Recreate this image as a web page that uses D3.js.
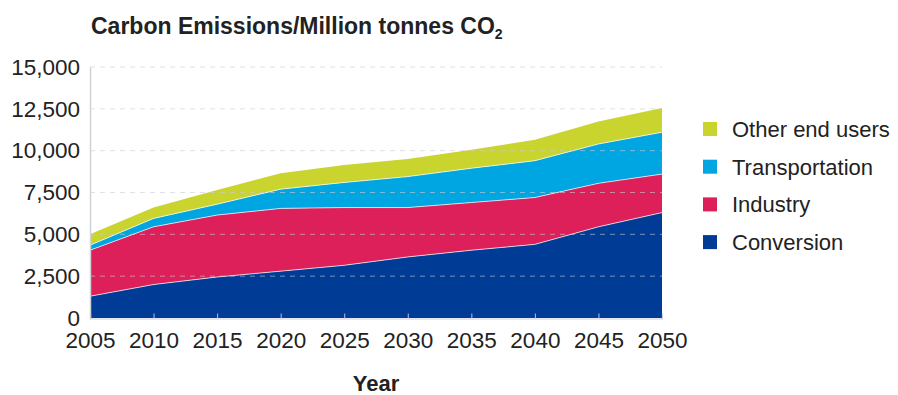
<!DOCTYPE html>
<html>
<head>
<meta charset="utf-8">
<script src="https://cdn.jsdelivr.net/npm/d3@7"></script>
<style>
  body { margin: 0; background: #fff; }
  text { font-family: "Liberation Sans", Arial, Helvetica, sans-serif; fill: #222; }
</style>
</head>
<body>
<svg width="898" height="395"></svg>
<script>
const years = [2005, 2010, 2015, 2020, 2025, 2030, 2035, 2040, 2045, 2050];
const conversion = [1300, 2000, 2450, 2800, 3150, 3650, 4050, 4400, 5450, 6300];
const industry = [2750, 3450, 3700, 3750, 3450, 2950, 2850, 2800, 2600, 2300];
const transportation = [300, 500, 650, 1150, 1500, 1850, 2050, 2200, 2350, 2500];
const otherEndUsers = [650, 650, 850, 950, 1050, 1050, 1100, 1250, 1350, 1450];

const seriesNames = ["Conversion", "Industry", "Transportation", "Other end users"];
const seriesColors = ["#003b95", "#dd1f5a", "#00a6e2", "#c9d42e"];
const yTicks = [0, 2500, 5000, 7500, 10000, 12500, 15000];

const svg = d3.select("svg");

const x = d3.scaleLinear()
  .domain([2005, 2050])
  .range([90, 662]);

const y = d3.scaleLinear()
  .domain([0, 15000])
  .range([318, 67]);

const rows = years.map((yr, i) => ({
  year: yr,
  "Conversion": conversion[i],
  "Industry": industry[i],
  "Transportation": transportation[i],
  "Other end users": otherEndUsers[i]
}));

const stack = d3.stack().keys(seriesNames);
const layers = stack(rows);

const area = d3.area()
  .x(d => x(d.data.year))
  .y0(d => y(d[0]))
  .y1(d => y(d[1]));

const topLine = d3.line()
  .x(d => x(d.data.year))
  .y(d => y(d[1]));

// areas
svg.append("g")
  .selectAll("path")
  .data(layers)
  .enter().append("path")
  .attr("d", area)
  .attr("fill", (d, i) => seriesColors[i]);

// thin light separators between layers
svg.append("g")
  .selectAll("path")
  .data(layers.slice(0, 3))
  .enter().append("path")
  .attr("d", topLine)
  .attr("fill", "none")
  .attr("stroke", "#fff")
  .attr("stroke-opacity", 0.7)
  .attr("stroke-width", 1);

// dashed gridlines over the areas
svg.append("g")
  .selectAll("line")
  .data(yTicks.slice(1))
  .enter().append("line")
  .attr("x1", x(2005))
  .attr("x2", x(2050))
  .attr("y1", d => y(d))
  .attr("y2", d => y(d))
  .attr("stroke", "#c9cdd2")
  .attr("stroke-opacity", 0.6)
  .attr("stroke-dasharray", "5,5");

// y axis
const yAxis = svg.append("g")
  .attr("transform", "translate(" + x(2005) + ",0)")
  .call(d3.axisLeft(y)
    .tickValues(yTicks)
    .tickSize(0)
    .tickPadding(10)
    .tickFormat(d3.format(",")));
yAxis.select(".domain").attr("stroke", "#cfd3d6").attr("stroke-width", 1.5);
yAxis.selectAll("text")
  .attr("font-size", 22.5)
  .attr("font-family", null)
  .attr("fill", "#222");

// x axis
const xAxis = svg.append("g")
  .attr("transform", "translate(0," + (y(0) + 0.5) + ")")
  .call(d3.axisBottom(x)
    .tickValues(years)
    .tickSize(-5)
    .tickPadding(14)
    .tickFormat(d3.format("d")));
xAxis.select(".domain").attr("stroke", "#c9cbe0").attr("stroke-width", 1.2);
xAxis.selectAll(".tick line").attr("stroke", "#b8bde6");
xAxis.selectAll(".tick")
  .filter(d => d === 2005 || d === 2050)
  .select("line").remove();
xAxis.selectAll("text")
  .attr("font-size", 22.5)
  .attr("font-family", null)
  .attr("fill", "#222");

// title
const title = svg.append("text")
  .attr("x", 91)
  .attr("y", 34)
  .attr("font-size", 23)
  .attr("font-weight", "bold")
  .attr("fill", "#111")
  .text("Carbon Emissions/Million tonnes CO");
title.append("tspan")
  .attr("font-size", 14)
  .attr("dy", 5)
  .text("2");

// x title
svg.append("text")
  .attr("x", (x(2005) + x(2050)) / 2)
  .attr("y", 391)
  .attr("text-anchor", "middle")
  .attr("font-size", 22)
  .attr("font-weight", "bold")
  .attr("fill", "#111")
  .text("Year");

// legend, top to bottom
const legendItems = seriesNames.map((n, i) => ({ name: n, color: seriesColors[i] })).reverse();
const legend = svg.append("g")
  .selectAll("g")
  .data(legendItems)
  .enter().append("g")
  .attr("transform", (d, i) => "translate(703," + (129 + i * 37.7) + ")");
legend.append("rect")
  .attr("x", 0)
  .attr("y", -7)
  .attr("width", 14)
  .attr("height", 14)
  .attr("fill", d => d.color);
legend.append("text")
  .attr("x", 29)
  .attr("y", 0)
  .attr("dy", "0.36em")
  .attr("font-size", 22)
  .attr("fill", "#222")
  .text(d => d.name);
</script>
</body>
</html>
